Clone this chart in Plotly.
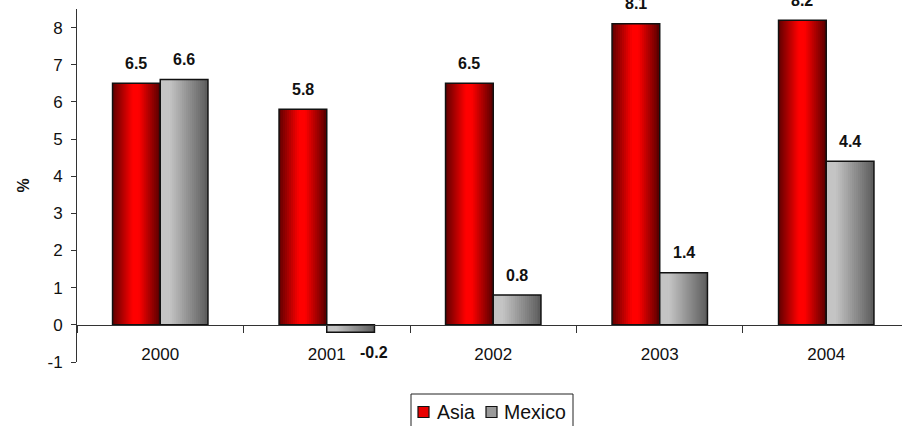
import plotly.graph_objects as go

# Real GDP growth, %
years = ["2000", "2001", "2002", "2003", "2004"]
asia = [6.5, 5.8, 6.5, 8.1, 8.2]
mexico = [6.6, -0.2, 0.8, 1.4, 4.4]
series_names = ["Asia", "Mexico"]

BAR_W = 0.2865          # bar width in category units
N_SLICES = 24           # vertical strips used to fake a horizontal gradient
TICK_FONT = "Liberation Sans Narrow, Arial Narrow, Liberation Sans, Arial, sans-serif"
TEXT_FONT = "Liberation Sans, Arial, sans-serif"

W, H = 902, 426
M_L, M_R, M_T, M_B = 77, 0, 9, 64
PLOT_W, PLOT_H = W - M_L - M_R, H - M_T - M_B


def red_shade(t):
    # dark edges, bright red around 40% of the width
    if t < 0.42:
        f = 0.38 + (1.0 - 0.38) * (t / 0.42)
    elif t < 0.55:
        f = 1.0
    else:
        f = 1.0 - (1.0 - 0.34) * ((t - 0.55) / 0.45)
    return f"rgb({int(255 * f)},0,0)"


def gray_shade(t):
    # light on the left, darker on the right
    if t < 0.2:
        g = 196
    else:
        g = 196 - (196 - 92) * ((t - 0.2) / 0.8)
    return f"rgb({int(g)},{int(g)},{int(g)})"


def px_x(px):
    return (px - M_L) / PLOT_W


def px_y(py):
    return (H - M_B - py) / PLOT_H


fig = go.Figure()

for values, start, shade in [(asia, -BAR_W, red_shade), (mexico, 0.0, gray_shade)]:
    step = BAR_W / N_SLICES
    for i in range(N_SLICES):
        t = (i + 0.5) / N_SLICES
        w = step * (1.6 if i < N_SLICES - 1 else 1.0)
        fig.add_trace(go.Bar(
            x=years, y=values, offset=start + i * step, width=w,
            marker=dict(color=shade(t), line=dict(width=0)),
            showlegend=False, hoverinfo="skip",
        ))
    # outline on top of the strips
    fig.add_trace(go.Bar(
        x=years, y=values, offset=start, width=BAR_W,
        marker=dict(color="rgba(0,0,0,0)", line=dict(color="#111111", width=1.5)),
        showlegend=False, hoverinfo="skip",
    ))

# value labels
annotations = []
for values, centre in [(asia, -BAR_W / 2), (mexico, BAR_W / 2)]:
    for i, v in enumerate(values):
        annotations.append(dict(
            x=i + centre, y=v, xref="x", yref="y",
            text=f"{v:.1f}", showarrow=False,
            yshift=20 if v >= 0 else -20,
            xshift=0 if v >= 0 else 23,
            font=dict(family=TEXT_FONT, size=16, color="#111111", weight="bold"),
        ))

# boxed legend below the plot
shapes = [dict(type="rect", xref="paper", yref="paper",
               x0=px_x(411), x1=px_x(573), y0=px_y(440), y1=px_y(394),
               line=dict(color="#222222", width=1), fillcolor="white", layer="above")]
legend_items = [(series_names[0], "#e80000", 418, 435),
                (series_names[1], "#9a9a9a", 486, 502)]
for name, colour, sq_x, txt_x in legend_items:
    shapes.append(dict(type="rect", xref="paper", yref="paper",
                       x0=px_x(sq_x), x1=px_x(sq_x + 11),
                       y0=px_y(417.5), y1=px_y(406.5),
                       line=dict(color="#111111", width=1.2), fillcolor=colour,
                       layer="above"))
    annotations.append(dict(
        x=px_x(txt_x), y=px_y(412), xref="paper", yref="paper",
        xanchor="left", yanchor="middle", text=name, showarrow=False,
        font=dict(family=TEXT_FONT, size=19.5, color="#111111"),
    ))

y_min, y_max = -1, 8.5
zero_pos = (0 - y_min) / (y_max - y_min)
y_ticks = list(range(-1, 9))

fig.update_layout(
    width=W, height=H,
    margin=dict(l=M_L, r=M_R, t=M_T, b=M_B),
    barmode="overlay",
    showlegend=False,
    plot_bgcolor="white", paper_bgcolor="white",
    annotations=annotations,
    shapes=shapes,
    xaxis=dict(
        type="category", range=[-0.5, 4.455],
        anchor="free", position=zero_pos,
        showline=True, linecolor="#333333", linewidth=1,
        ticks="outside", tickson="boundaries", ticklen=7, tickcolor="#333333",
        ticklabelstandoff=14,
        tickfont=dict(family=TICK_FONT, size=17, color="#111111"),
        showgrid=False, zeroline=False,
    ),
    yaxis=dict(
        range=[y_min, y_max],
        tickvals=y_ticks, ticktext=[str(v) for v in y_ticks],
        showline=True, linecolor="#333333", linewidth=1,
        ticks="outside", ticklen=5, tickcolor="#333333",
        ticklabelstandoff=5,
        tickfont=dict(family=TICK_FONT, size=17, color="#111111"),
        showgrid=False, zeroline=False,
        title=dict(text="%", standoff=13,
                   font=dict(family=TEXT_FONT, size=16, color="#111111", weight="bold")),
    ),
)

fig.write_html("out.html")
